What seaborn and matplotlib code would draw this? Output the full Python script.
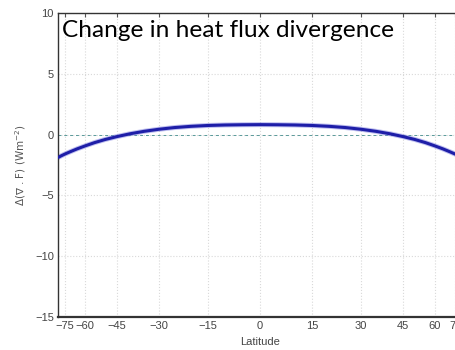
import numpy as np
import pandas as pd
import matplotlib
matplotlib.use("Agg")
import matplotlib.pyplot as plt
import seaborn as sns

# Zonal-mean change in heat flux divergence (W m^-2) by latitude
latitude = [-90, -85, -80, -75, -70, -65, -60, -55, -50, -45, -40, -35, -30, -25,
            -20, -15, -10, -5, 0, 5, 10, 15, 20, 25, 30, 35, 40, 45, 50, 55, 60,
            65, 70, 75, 80, 85, 90]
delta_div = [-1.88, -1.85, -1.75, -1.60, -1.41, -1.18, -0.93, -0.66, -0.40, -0.16,
             0.07, 0.27, 0.44, 0.58, 0.68, 0.75, 0.79, 0.81, 0.82, 0.81, 0.79,
             0.75, 0.68, 0.58, 0.44, 0.27, 0.07, -0.16, -0.40, -0.66, -0.93,
             -1.18, -1.41, -1.60, -1.75, -1.85, -1.88]

xticks = [-75, -60, -45, -30, -15, 0, 15, 30, 45, 60, 75]
yticks = [-15, -10, -5, 0, 5, 10]

df = pd.DataFrame({"lat": latitude, "ddiv": delta_div})

sns.set_style("white")
plt.rcParams["font.family"] = ["Liberation Sans", "DejaVu Sans"]

fig = plt.figure(figsize=(4.56, 3.50), dpi=100)
ax = fig.add_axes([58 / 456, 33 / 350, 404 / 456, 304 / 350])


def fwd(x):
    return np.sin(np.deg2rad(np.asarray(x, dtype=float)))


def inv(s):
    return np.rad2deg(np.arcsin(np.clip(np.asarray(s, dtype=float), -1, 1)))


# latitude axis spaced by sin(latitude), i.e. equal-area
ax.set_xscale("function", functions=(fwd, inv))

ax.grid(True, color="#d9d9d9", linestyle=":", linewidth=0.8)
ax.axhline(0, color="#5a9a9a", linestyle=(0, (3, 3)), linewidth=0.7, zorder=1)

# soft halo under the main line
ax.plot(df["lat"], df["ddiv"], color="#8080e0", linewidth=3.6, alpha=0.5,
        zorder=2, solid_capstyle="butt")
sns.lineplot(data=df, x="lat", y="ddiv", ax=ax, color="#1e1ea8", linewidth=2.2,
             zorder=3)

ax.set_xlim(-90, 90)
ax.set_ylim(-15, 10)
ax.set_xticks(xticks)
ax.set_xticklabels([str(t).replace("-", "\u2212") for t in xticks])
ax.set_yticks(yticks)
ax.set_yticklabels([str(t).replace("-", "\u2212") for t in yticks])
ax.tick_params(direction="in", length=3, width=0.8, labelsize=8,
               labelcolor="#444444", color="#555555", top=True, right=True,
               pad=3)

for side in ["left", "bottom", "top", "right"]:
    ax.spines[side].set_color("#333333")
    ax.spines[side].set_linewidth(1.0)
ax.spines["bottom"].set_linewidth(1.6)

ax.set_xlabel("Latitude", fontsize=8, color="#444444", labelpad=4)
ax.set_ylabel("\u0394(\u2207 . F) (Wm$^{-2}$)", fontsize=7.5, color="#555555",
              labelpad=5, family=["DejaVu Sans"])

ax.text(62 / 456, 337 / 350 - 0.02, "Change in heat flux divergence",
        transform=fig.transFigure, fontsize=17.6, family=["Lato", "DejaVu Sans"],
        color="black", ha="left", va="top")

fig.savefig("out.png", dpi=100)
